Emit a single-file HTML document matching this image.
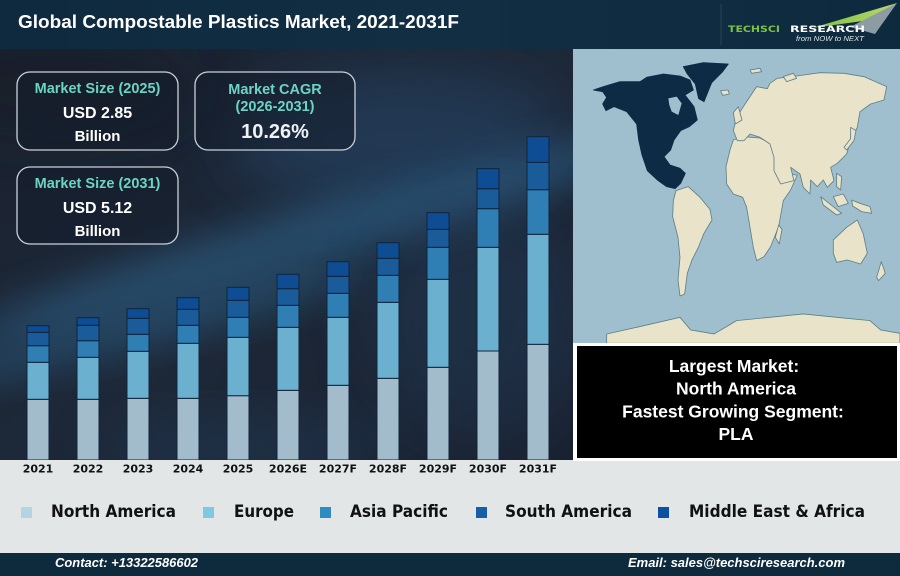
<!DOCTYPE html>
<html><head><meta charset="utf-8"><style>
html,body{margin:0;padding:0;background:#1a2231;}
svg{display:block;}
</style></head><body>
<svg width="900" height="576" viewBox="0 0 900 576" xmlns="http://www.w3.org/2000/svg">
<defs>
<filter id="blur" x="-50%" y="-50%" width="200%" height="200%"><feGaussianBlur stdDeviation="18"/></filter>
<filter id="blur3" x="-50%" y="-50%" width="200%" height="200%"><feGaussianBlur stdDeviation="30"/></filter>
<linearGradient id="hdr" x1="0" y1="0" x2="1" y2="0"><stop offset="0" stop-color="#0f2a3e"/><stop offset="0.5" stop-color="#112e43"/><stop offset="1" stop-color="#0e2a3e"/></linearGradient>
<linearGradient id="bg" x1="0" y1="0" x2="1" y2="1"><stop offset="0" stop-color="#1b2230"/><stop offset="0.5" stop-color="#1d2838"/><stop offset="1" stop-color="#1a2130"/></linearGradient>
<linearGradient id="tri" x1="0" y1="0" x2="1" y2="0"><stop offset="0" stop-color="#7cc242"/><stop offset="1" stop-color="#b9d86a"/></linearGradient>
<clipPath id="chartclip"><rect x="0" y="49" width="573" height="411"/></clipPath>
<clipPath id="mapclip"><rect x="573" y="49" width="327" height="294"/></clipPath>
</defs>

<!-- header -->
<rect x="0" y="0" width="900" height="49" fill="url(#hdr)"/>
<text x="18" y="28" font-family="Liberation Sans, sans-serif" font-weight="bold" font-size="18" fill="#ffffff" textLength="441" lengthAdjust="spacingAndGlyphs">Global Compostable Plastics Market, 2021-2031F</text>
<line x1="721" y1="4" x2="721" y2="45" stroke="#274558" stroke-width="1"/>
<polygon points="812,28 897,3 870,20" fill="url(#tri)"/>
<polygon points="850,27 897,3 875,34" fill="#8c9ca2"/>
<text x="728" y="32" font-family="DejaVu Sans, sans-serif" font-weight="bold" font-size="9" fill="#7dc243" textLength="52" lengthAdjust="spacingAndGlyphs">TECHSCI</text>
<text x="790" y="32" font-family="DejaVu Sans, sans-serif" font-weight="bold" font-size="9" fill="#ffffff" textLength="75" lengthAdjust="spacingAndGlyphs">RESEARCH</text>
<text x="796" y="41" font-family="Liberation Sans, sans-serif" font-style="italic" font-size="7.5" fill="#e0e6ea" textLength="68" lengthAdjust="spacingAndGlyphs">from NOW to NEXT</text>

<!-- chart background -->
<rect x="0" y="49" width="573" height="411" fill="url(#bg)"/>
<g clip-path="url(#chartclip)">
<ellipse cx="400" cy="140" rx="170" ry="70" fill="#25476a" opacity="0.55" filter="url(#blur3)"/>
<ellipse cx="300" cy="240" rx="340" ry="30" fill="#2f6288" opacity="0.6" transform="rotate(-16 300 240)" filter="url(#blur)"/>
<ellipse cx="130" cy="330" rx="250" ry="22" fill="#2c5c80" opacity="0.55" transform="rotate(-14 130 330)" filter="url(#blur)"/>
<ellipse cx="480" cy="320" rx="110" ry="120" fill="#203a56" opacity="0.45" filter="url(#blur3)"/>
<ellipse cx="250" cy="450" rx="150" ry="30" fill="#25486a" opacity="0.4" filter="url(#blur3)"/>
<ellipse cx="60" cy="90" rx="140" ry="50" fill="#161c28" opacity="0.6" filter="url(#blur3)"/>
</g>

<!-- KPI boxes -->
<g font-family="Liberation Sans, sans-serif" font-weight="bold" text-anchor="middle">
<rect x="17" y="72" width="161" height="78" rx="13" fill="#141d2b" fill-opacity="0.55" stroke="#c9d1d9" stroke-width="1.3"/>
<text x="97.5" y="93" font-size="14.5" fill="#6cd4c4">Market Size (2025)</text>
<text x="97.5" y="118" font-size="16" fill="#ffffff">USD 2.85</text>
<text x="97.5" y="141" font-size="15" fill="#ffffff">Billion</text>

<rect x="195" y="72" width="160" height="78" rx="13" fill="#141d2b" fill-opacity="0.55" stroke="#c9d1d9" stroke-width="1.3"/>
<text x="275" y="94" font-size="14.5" fill="#6cd4c4">Market CAGR</text>
<text x="275" y="111" font-size="14.5" fill="#6cd4c4">(2026-2031)</text>
<text x="275" y="138" font-size="20" fill="#eef2f5">10.26%</text>

<rect x="17" y="167" width="161" height="77" rx="13" fill="#141d2b" fill-opacity="0.55" stroke="#c9d1d9" stroke-width="1.3"/>
<text x="97.5" y="188" font-size="14.5" fill="#6cd4c4">Market Size (2031)</text>
<text x="97.5" y="213" font-size="16" fill="#ffffff">USD 5.12</text>
<text x="97.5" y="236" font-size="15" fill="#ffffff">Billion</text>
</g>

<!-- bars -->
<g stroke="#10243d" stroke-width="1">
<rect x="27" y="399.3" width="22" height="60.7" fill="#a2bccb"/>
<rect x="27" y="362.3" width="22" height="37" fill="#6cb0cf"/>
<rect x="27" y="345.7" width="22" height="16.6" fill="#2f7fb5"/>
<rect x="27" y="332.3" width="22" height="13.4" fill="#1a5b99"/>
<rect x="27" y="325.7" width="22" height="6.6" fill="#0e4c93"/>
<rect x="77" y="399.3" width="22" height="60.7" fill="#a2bccb"/>
<rect x="77" y="357.3" width="22" height="42" fill="#6cb0cf"/>
<rect x="77" y="340.7" width="22" height="16.6" fill="#2f7fb5"/>
<rect x="77" y="325.3" width="22" height="15.4" fill="#1a5b99"/>
<rect x="77" y="317.7" width="22" height="7.6" fill="#0e4c93"/>
<rect x="127" y="398.3" width="22" height="61.7" fill="#a2bccb"/>
<rect x="127" y="351.3" width="22" height="47" fill="#6cb0cf"/>
<rect x="127" y="334.3" width="22" height="17" fill="#2f7fb5"/>
<rect x="127" y="318.3" width="22" height="16" fill="#1a5b99"/>
<rect x="127" y="308.7" width="22" height="9.6" fill="#0e4c93"/>
<rect x="177" y="398.3" width="22" height="61.7" fill="#a2bccb"/>
<rect x="177" y="343.3" width="22" height="55" fill="#6cb0cf"/>
<rect x="177" y="325.3" width="22" height="18" fill="#2f7fb5"/>
<rect x="177" y="309.3" width="22" height="16" fill="#1a5b99"/>
<rect x="177" y="297.7" width="22" height="11.6" fill="#0e4c93"/>
<rect x="227" y="395.7" width="22" height="64.3" fill="#a2bccb"/>
<rect x="227" y="337.3" width="22" height="58.4" fill="#6cb0cf"/>
<rect x="227" y="317.3" width="22" height="20" fill="#2f7fb5"/>
<rect x="227" y="300.3" width="22" height="17" fill="#1a5b99"/>
<rect x="227" y="287.3" width="22" height="13" fill="#0e4c93"/>
<rect x="277" y="390.3" width="22" height="69.7" fill="#a2bccb"/>
<rect x="277" y="327.3" width="22" height="63" fill="#6cb0cf"/>
<rect x="277" y="305.3" width="22" height="22" fill="#2f7fb5"/>
<rect x="277" y="288.7" width="22" height="16.6" fill="#1a5b99"/>
<rect x="277" y="274.3" width="22" height="14.4" fill="#0e4c93"/>
<rect x="327" y="385.3" width="22" height="74.7" fill="#a2bccb"/>
<rect x="327" y="317.3" width="22" height="68" fill="#6cb0cf"/>
<rect x="327" y="293.3" width="22" height="24" fill="#2f7fb5"/>
<rect x="327" y="276.3" width="22" height="17" fill="#1a5b99"/>
<rect x="327" y="261.7" width="22" height="14.6" fill="#0e4c93"/>
<rect x="377" y="378.3" width="22" height="81.7" fill="#a2bccb"/>
<rect x="377" y="302.3" width="22" height="76" fill="#6cb0cf"/>
<rect x="377" y="275.3" width="22" height="27" fill="#2f7fb5"/>
<rect x="377" y="258.3" width="22" height="17" fill="#1a5b99"/>
<rect x="377" y="242.7" width="22" height="15.6" fill="#0e4c93"/>
<rect x="427" y="367.3" width="22" height="92.7" fill="#a2bccb"/>
<rect x="427" y="279.3" width="22" height="88" fill="#6cb0cf"/>
<rect x="427" y="247.3" width="22" height="32" fill="#2f7fb5"/>
<rect x="427" y="229.3" width="22" height="18" fill="#1a5b99"/>
<rect x="427" y="212.7" width="22" height="16.6" fill="#0e4c93"/>
<rect x="477" y="351" width="22" height="109" fill="#a2bccb"/>
<rect x="477" y="247.3" width="22" height="103.7" fill="#6cb0cf"/>
<rect x="477" y="208.7" width="22" height="38.6" fill="#2f7fb5"/>
<rect x="477" y="188.7" width="22" height="20" fill="#1a5b99"/>
<rect x="477" y="168.7" width="22" height="20" fill="#0e4c93"/>
<rect x="527" y="344.3" width="22" height="115.7" fill="#a2bccb"/>
<rect x="527" y="234.3" width="22" height="110" fill="#6cb0cf"/>
<rect x="527" y="189.7" width="22" height="44.6" fill="#2f7fb5"/>
<rect x="527" y="162.3" width="22" height="27.4" fill="#1a5b99"/>
<rect x="527" y="136.7" width="22" height="25.6" fill="#0e4c93"/>
</g>

<!-- map -->
<rect x="573" y="49" width="327" height="294" fill="#a0bfce"/>
<g clip-path="url(#mapclip)">
<g transform="translate(570 40) scale(0.3333)" stroke="#5d7f86" stroke-width="2.5" stroke-linejoin="round">
<polygon fill="#0e2b45" stroke="#0e2b45" points="70,150 100,140 150,125 210,125 230,112 280,102 330,108 360,120 370,150 345,165 372,200 382,240 358,260 332,272 312,300 302,330 282,350 300,375 330,385 346,400 332,430 315,446 290,440 262,420 232,392 216,345 206,300 200,252 170,215 132,200 108,212 98,192 110,172 98,155"/>
<polygon fill="#a0bfce" stroke="none" points="295,175 320,170 335,190 325,225 305,215 298,195"/>
<polygon fill="#0e2b45" stroke="#0e2b45" points="340,80 400,68 475,72 458,95 425,128 402,185 386,176 376,132 352,102"/>
<polygon fill="#e9e4c9" points="452,152 474,150 478,162 458,166"/>
<polygon fill="#e9e4c9" points="318,452 355,440 388,470 420,508 426,540 402,580 386,620 366,660 352,700 344,762 330,768 324,720 330,652 324,592 308,530 310,482"/>
<polygon fill="#e9e4c9" points="490,300 520,290 570,294 600,310 622,360 642,402 682,405 662,450 640,482 626,560 602,620 582,650 560,662 550,622 540,562 530,502 518,472 490,462 470,432 468,380 480,330"/>
<polygon fill="#e9e4c9" points="626,555 636,568 628,612 616,592"/>
<polygon fill="#e9e4c9" points="490,272 500,232 520,200 540,170 560,140 592,146 600,130 622,115 680,108 750,98 822,100 882,110 950,140 942,180 902,192 870,215 862,262 842,302 830,342 802,370 782,382 792,422 772,442 760,420 742,440 722,420 720,462 700,442 690,402 662,382 672,422 632,432 612,392 612,352 600,312 570,292 540,282 522,302 502,302"/>
<polygon fill="#e9e4c9" points="490,218 505,200 516,240 496,252"/>
<polygon fill="#e9e4c9" points="842,262 858,272 852,302 830,330 822,322 842,296"/>
<polygon fill="#e9e4c9" points="752,470 790,500 815,520 800,525 760,495"/>
<polygon fill="#e9e4c9" points="790,470 820,462 835,490 805,500"/>
<polygon fill="#e9e4c9" points="845,480 870,490 900,500 905,520 875,515 848,498"/>
<polygon fill="#e9e4c9" points="800,400 815,410 812,450 800,440"/>
<polygon fill="#e9e4c9" points="790,600 830,562 862,540 880,582 892,640 872,672 832,660 800,667 790,640"/>
<polygon fill="#e9e4c9" points="934,665 946,700 926,722 920,712"/>
<polygon fill="#e9e4c9" points="110,882 200,862 330,832 362,870 432,882 500,842 600,832 700,822 800,832 900,842 932,870 990,880 990,910 110,910"/>
<polygon fill="#e9e4c9" points="540,90 570,85 575,95 545,100"/>
<polygon fill="#e9e4c9" points="640,110 670,100 680,115 650,125"/>
</g>
</g>

<!-- highlight box -->
<rect x="573" y="343" width="327" height="118" fill="#ffffff"/>
<rect x="577" y="346" width="320" height="112" fill="#000000"/>
<g font-family="Liberation Sans, sans-serif" font-weight="bold" font-size="17.5" fill="#ffffff" text-anchor="middle">
<text x="734" y="372">Largest Market:</text>
<text x="736" y="394.5">North America</text>
<text x="733" y="417.5">Fastest Growing Segment:</text>
<text x="736" y="440">PLA</text>
</g>

<!-- lower area -->
<rect x="0" y="460" width="573" height="93" fill="#e2e6e7"/>
<rect x="573" y="461" width="327" height="92" fill="#e2e6e7"/>
<g font-family="DejaVu Sans, sans-serif" font-weight="bold" font-size="11" fill="#111111" text-anchor="middle">
<text x="38" y="472.5">2021</text>
<text x="88" y="472.5">2022</text>
<text x="138" y="472.5">2023</text>
<text x="188" y="472.5">2024</text>
<text x="238" y="472.5">2025</text>
<text x="288" y="472.5">2026E</text>
<text x="338" y="472.5">2027F</text>
<text x="388" y="472.5">2028F</text>
<text x="438" y="472.5">2029F</text>
<text x="488" y="472.5">2030F</text>
<text x="538" y="472.5">2031F</text>
</g>

<!-- legend -->
<rect x="21" y="507" width="11" height="11" fill="#b2d4e4"/>
<rect x="203" y="507" width="11" height="11" fill="#7ec8e4"/>
<rect x="320" y="507" width="11" height="11" fill="#2e8cc2"/>
<rect x="476" y="507" width="11" height="11" fill="#145fa8"/>
<rect x="658" y="507" width="11" height="11" fill="#0d4fa0"/>
<g font-family="DejaVu Sans, sans-serif" font-weight="bold" font-size="17" fill="#111111">
<text x="51" y="517" textLength="125" lengthAdjust="spacingAndGlyphs">North America</text>
<text x="234" y="517" textLength="60" lengthAdjust="spacingAndGlyphs">Europe</text>
<text x="350" y="517" textLength="98" lengthAdjust="spacingAndGlyphs">Asia Pacific</text>
<text x="505" y="517" textLength="127" lengthAdjust="spacingAndGlyphs">South America</text>
<text x="689" y="517" textLength="176" lengthAdjust="spacingAndGlyphs">Middle East &amp; Africa</text>
</g>

<!-- footer -->
<rect x="0" y="553" width="900" height="23" fill="#0e2a3d"/>
<g font-family="Liberation Sans, sans-serif" font-weight="bold" font-style="italic" font-size="13" fill="#ffffff">
<text x="55" y="567" textLength="143" lengthAdjust="spacingAndGlyphs">Contact: +13322586602</text>
<text x="628" y="567" textLength="217" lengthAdjust="spacingAndGlyphs">Email: sales@techsciresearch.com</text>
</g>
</svg>
</body></html>
